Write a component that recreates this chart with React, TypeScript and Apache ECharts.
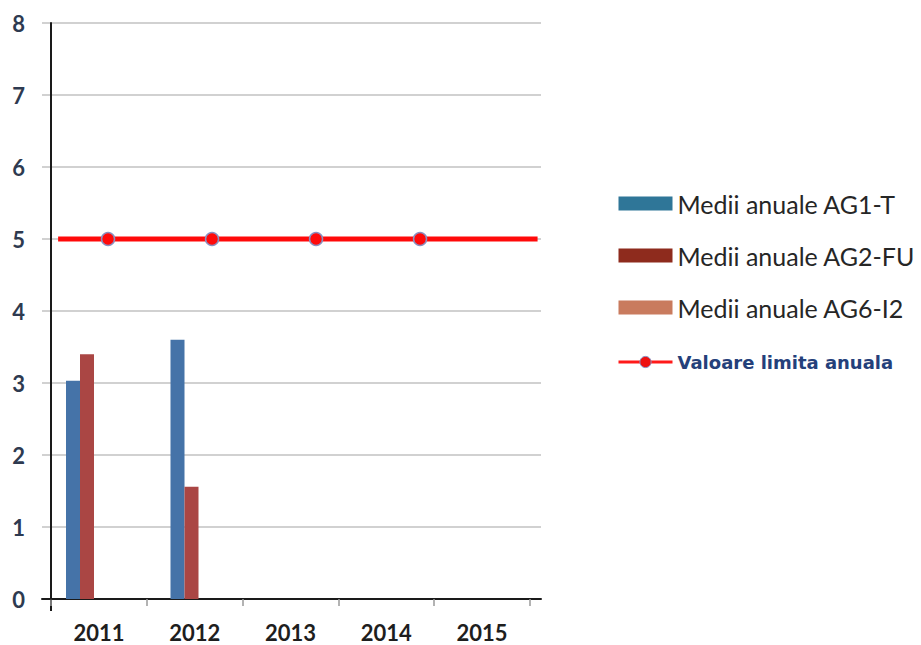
import React, { useEffect, useRef } from "react";
import * as echarts from "echarts";

// Annual averages per monitoring station
const years = ["2011", "2012", "2013", "2014", "2015"];
const ag1T = [3.03, 3.6, 0, 0, 0];
const ag2FU = [3.4, 1.56, 0, 0, 0];
const ag6I2 = [0, 0, 0, 0, 0];

// Annual limit value line (x in marker units along the limit axis)
const limitX = [-0.48, 0, 1, 2, 3, 4.13];
const limitY = [5, 5, 5, 5, 5, 5];
const limitMarked = [false, true, true, true, true, false];

const yTicks = { min: 0, max: 8, interval: 1 };

const seriesNames = [
  "Medii anuale AG1-T",
  "Medii anuale AG2-FU",
  "Medii anuale AG6-I2",
  "Valoare limita anuala",
];

const FONT = "Lato, 'Open Sans', sans-serif";

export default function App() {
  const ref = useRef<HTMLDivElement>(null);

  useEffect(() => {
    if (!ref.current) return;
    const chart = echarts.init(ref.current, undefined, { renderer: "svg" });

    const plotTop = 23;
    const plotHeight = 576;

    const option: any = {
      animation: false,
      backgroundColor: "#ffffff",
      grid: [
        // labelled axes
        { left: 51, top: plotTop, width: 479, height: plotHeight },
        // gridlines, baseline and the limit line
        { left: 42, top: plotTop, width: 499, height: plotHeight },
        // bar clusters (secondary category spacing)
        { left: 34.75, top: plotTop, width: 522.5, height: plotHeight },
      ],
      xAxis: [
        {
          gridIndex: 0,
          type: "category",
          data: years,
          boundaryGap: true,
          axisLine: { show: false },
          axisTick: {
            show: true,
            length: 7,
            lineStyle: { color: "#9a9a9a", width: 1.5 },
          },
          axisLabel: {
            margin: 22,
            fontSize: 22,
            fontWeight: "bold",
            color: "#1e1e1e",
            fontFamily: FONT,
          },
          splitLine: { show: false },
        },
        {
          gridIndex: 1,
          type: "value",
          min: -0.635,
          max: 4.163,
          axisLine: { show: true, onZero: false, lineStyle: { color: "#1a1a1a", width: 2 } },
          axisTick: { show: false },
          axisLabel: { show: false },
          splitLine: { show: false },
        },
        {
          gridIndex: 2,
          type: "category",
          data: years,
          show: false,
        },
      ],
      yAxis: [
        {
          gridIndex: 0,
          type: "value",
          ...yTicks,
          axisLine: { show: true, lineStyle: { color: "#1a1a1a", width: 2 } },
          axisTick: { show: false },
          axisLabel: {
            margin: 26,
            fontSize: 22,
            fontWeight: "bold",
            color: "#2e3a50",
            fontFamily: FONT,
          },
          splitLine: { show: false },
          z: 5,
        },
        {
          gridIndex: 1,
          type: "value",
          ...yTicks,
          axisLine: { show: false },
          axisTick: { show: false },
          axisLabel: { show: false },
          splitLine: { show: true, lineStyle: { color: "#c2c2c2", width: 1.5 } },
        },
        {
          gridIndex: 2,
          type: "value",
          ...yTicks,
          show: false,
          splitLine: { show: false },
        },
      ],
      legend: {
        orient: "vertical",
        left: 612,
        top: 186,
        itemWidth: 54,
        itemHeight: 14,
        itemGap: 27,
        textStyle: {
          fontSize: 25,
          lineHeight: 24,
          color: "#262626",
          fontFamily: FONT,
        },
        data: [
          { name: seriesNames[0], icon: "rect", itemStyle: { color: "#2f7698" } },
          { name: seriesNames[1], icon: "rect", itemStyle: { color: "#8e2b1d" } },
          { name: seriesNames[2], icon: "rect", itemStyle: { color: "#c97b5e" } },
          {
            name: seriesNames[3],
            lineStyle: { width: 3, color: "#ff1a1a" },
            itemStyle: { color: "#ee1111", borderColor: "#8a90c0", borderWidth: 1 },
            textStyle: {
              fontSize: 18,
              lineHeight: 30,
              fontWeight: "bold",
              color: "#24407a",
              fontFamily: "'DejaVu Sans', Verdana, sans-serif",
            },
          },
        ],
      },
      graphic: [
        {
          type: "line",
          shape: { x1: 51, y1: plotTop + plotHeight, x2: 51, y2: plotTop + plotHeight + 12 },
          style: { stroke: "#1a1a1a", lineWidth: 2 },
        },
      ],
      series: [
        {
          name: seriesNames[0],
          type: "bar",
          xAxisIndex: 2,
          yAxisIndex: 2,
          data: ag1T,
          barWidth: 14,
          barGap: "0%",
          itemStyle: { color: "#4573a8" },
        },
        {
          name: seriesNames[1],
          type: "bar",
          xAxisIndex: 2,
          yAxisIndex: 2,
          data: ag2FU,
          barWidth: 14,
          barGap: "0%",
          itemStyle: { color: "#aa4644" },
        },
        {
          name: seriesNames[2],
          type: "bar",
          xAxisIndex: 2,
          yAxisIndex: 2,
          data: ag6I2,
          barWidth: 14,
          barGap: "0%",
          itemStyle: { color: "#c97b5e" },
        },
        {
          name: seriesNames[3],
          type: "line",
          xAxisIndex: 1,
          yAxisIndex: 1,
          data: limitX.map((x, i) => ({
            value: [x, limitY[i]],
            symbol: limitMarked[i] ? "circle" : "none",
          })),
          symbol: "circle",
          symbolSize: 13,
          lineStyle: { color: "#ff0a0a", width: 5 },
          itemStyle: { color: "#ff0a0a", borderColor: "#8a90c0", borderWidth: 1.5 },
          z: 4,
        },
      ],
    };

    chart.setOption(option);
    return () => chart.dispose();
  }, []);

  return (
    <div
      ref={ref}
      style={{ position: "fixed", left: 0, top: 0, width: 921, height: 645 }}
    />
  );
}
